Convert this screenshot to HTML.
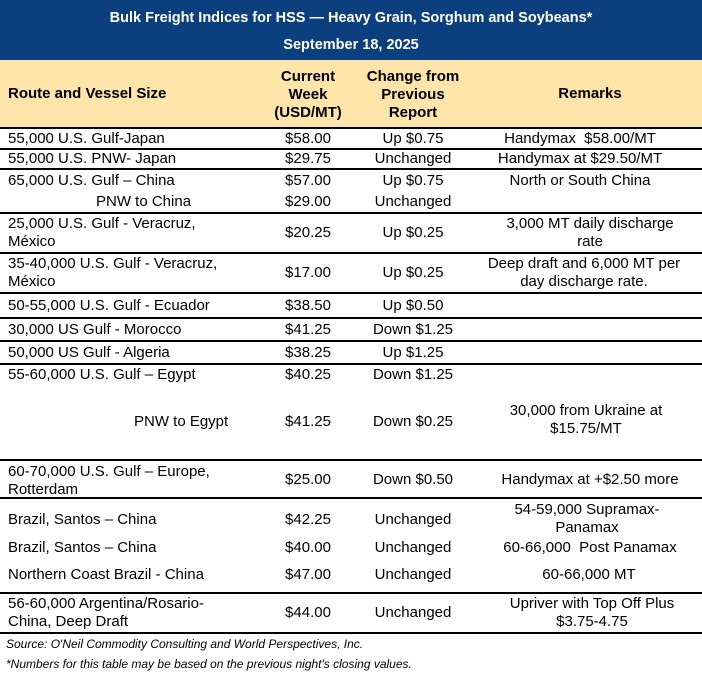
<!DOCTYPE html>
<html><head><meta charset="utf-8">
<style>
body{margin:0;width:702px;height:674px;background:#fff;position:relative;overflow:hidden;font-family:"Liberation Sans",Arial,sans-serif;color:#000}
.t{position:absolute;font-size:15px;line-height:18px;white-space:nowrap}
.c{transform:translateX(-50%);text-align:center}
.b{font-weight:bold}
.h{position:absolute;left:0;width:702px;height:1.5px;background:#000}
</style></head><body>
<div style="position:absolute;left:0;top:0;width:702px;height:60px;background:#0b3f7e"></div>
<div class="t c b" style="left:351px;top:9px;color:#fff;font-size:14.5px">Bulk Freight Indices for HSS — Heavy Grain, Sorghum and Soybeans*</div>
<div class="t c b" style="left:351px;top:36px;color:#fff;font-size:14.5px">September 18, 2025</div>
<div style="position:absolute;left:0;top:60px;width:702px;height:68px;background:#fde5a9"></div>
<div class="t b" style="left:8px;top:85px">Route and Vessel Size</div>
<div class="t c b" style="left:308px;top:68px">Current<br>Week<br>(USD/MT)</div>
<div class="t c b" style="left:413px;top:68px">Change from<br>Previous<br>Report</div>
<div class="t c b" style="left:590px;top:85px">Remarks</div>

<div class="h" style="top:127px"></div><div class="h" style="top:148px"></div><div class="h" style="top:168px"></div><div class="h" style="top:212px"></div><div class="h" style="top:252px"></div><div class="h" style="top:292px"></div><div class="h" style="top:317px"></div><div class="h" style="top:340px"></div><div class="h" style="top:363px"></div><div class="h" style="top:459px"></div><div class="h" style="top:497px"></div><div class="h" style="top:592px"></div><div class="h" style="top:632px"></div>

<div>
<div class="t" style="left:8px;top:130px">55,000 U.S. Gulf-Japan</div><div class="t c" style="left:308px;top:130px">$58.00</div><div class="t c" style="left:413px;top:130px">Up $0.75</div><div class="t c" style="left:580px;top:130px">Handymax&nbsp; $58.00/MT</div></div>
<div>
<div class="t" style="left:8px;top:150px">55,000 U.S. PNW- Japan</div><div class="t c" style="left:308px;top:150px">$29.75</div><div class="t c" style="left:413px;top:150px">Unchanged</div><div class="t c" style="left:580px;top:150px">Handymax at $29.50/MT</div></div>
<div>
<div class="t" style="left:8px;top:172px">65,000 U.S. Gulf – China</div><div class="t c" style="left:308px;top:172px">$57.00</div><div class="t c" style="left:413px;top:172px">Up $0.75</div><div class="t c" style="left:580px;top:172px">North or South China</div>
<div class="t" style="left:96px;top:193px">PNW to China</div><div class="t c" style="left:308px;top:193px">$29.00</div><div class="t c" style="left:413px;top:193px">Unchanged</div></div>
<div>
<div class="t" style="left:8px;top:215px">25,000 U.S. Gulf - Veracruz,<br>México</div><div class="t c" style="left:308px;top:224px">$20.25</div><div class="t c" style="left:413px;top:224px">Up $0.25</div><div class="t c" style="left:590px;top:215px">3,000 MT daily discharge<br>rate</div></div>
<div>
<div class="t" style="left:8px;top:255px">35-40,000 U.S. Gulf - Veracruz,<br>México</div><div class="t c" style="left:308px;top:264px">$17.00</div><div class="t c" style="left:413px;top:264px">Up $0.25</div><div class="t c" style="left:584px;top:255px">Deep draft and 6,000 MT per<br>day discharge rate.</div></div>
<div>
<div class="t" style="left:8px;top:297px">50-55,000 U.S. Gulf - Ecuador</div><div class="t c" style="left:308px;top:297px">$38.50</div><div class="t c" style="left:413px;top:297px">Up $0.50</div></div>
<div>
<div class="t" style="left:8px;top:321px">30,000 US Gulf - Morocco</div><div class="t c" style="left:308px;top:321px">$41.25</div><div class="t c" style="left:413px;top:321px">Down $1.25</div></div>
<div>
<div class="t" style="left:8px;top:344px">50,000 US Gulf - Algeria</div><div class="t c" style="left:308px;top:344px">$38.25</div><div class="t c" style="left:413px;top:344px">Up $1.25</div></div>
<div>
<div class="t" style="left:8px;top:366px">55-60,000 U.S. Gulf – Egypt</div><div class="t c" style="left:308px;top:366px">$40.25</div><div class="t c" style="left:413px;top:366px">Down $1.25</div>
<div class="t" style="left:134px;top:413px">PNW to Egypt</div><div class="t c" style="left:308px;top:413px">$41.25</div><div class="t c" style="left:413px;top:413px">Down $0.25</div><div class="t c" style="left:586px;top:402px">30,000 from Ukraine at<br>$15.75/MT</div></div>
<div>
<div class="t" style="left:8px;top:463px">60-70,000 U.S. Gulf – Europe,<br>Rotterdam</div><div class="t c" style="left:308px;top:471px">$25.00</div><div class="t c" style="left:413px;top:471px">Down $0.50</div><div class="t c" style="left:590px;top:471px">Handymax at +$2.50 more</div></div>
<div>
<div class="t" style="left:8px;top:511px">Brazil, Santos – China</div><div class="t c" style="left:308px;top:511px">$42.25</div><div class="t c" style="left:413px;top:511px">Unchanged</div><div class="t c" style="left:587px;top:501px">54-59,000 Supramax-<br>Panamax</div>
<div class="t" style="left:8px;top:539px">Brazil, Santos – China</div><div class="t c" style="left:308px;top:539px">$40.00</div><div class="t c" style="left:413px;top:539px">Unchanged</div><div class="t c" style="left:590px;top:539px">60-66,000&nbsp; Post Panamax</div>
<div class="t" style="left:8px;top:566px">Northern Coast Brazil - China</div><div class="t c" style="left:308px;top:566px">$47.00</div><div class="t c" style="left:413px;top:566px">Unchanged</div><div class="t c" style="left:589px;top:566px">60-66,000 MT</div></div>
<div>
<div class="t" style="left:8px;top:595px">56-60,000 Argentina/Rosario-<br>China, Deep Draft</div><div class="t c" style="left:308px;top:604px">$44.00</div><div class="t c" style="left:413px;top:604px">Unchanged</div><div class="t c" style="left:592px;top:595px">Upriver with Top Off Plus<br>$3.75-4.75</div></div>

<div class="t" style="left:6px;top:635px;font-size:12px;font-style:italic">Source: O'Neil Commodity Consulting and World Perspectives, Inc.</div>
<div class="t" style="left:6px;top:655px;font-size:12px;font-style:italic">*Numbers for this table may be based on the previous night's closing values.</div>
</body></html>
